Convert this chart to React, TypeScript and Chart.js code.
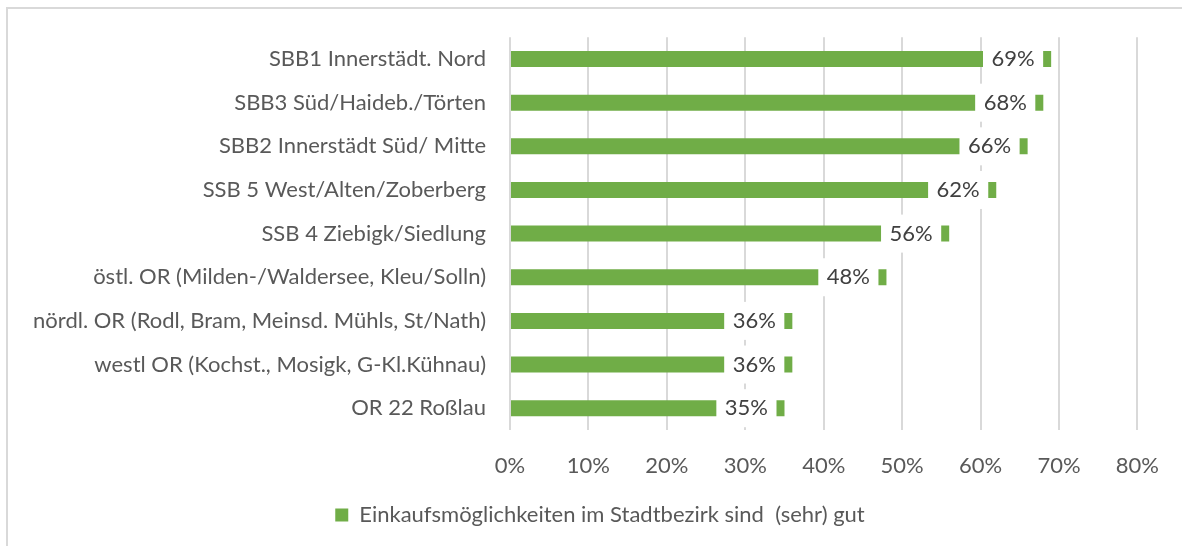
import React, { useEffect, useRef } from "react";
import { Chart, registerables } from "chart.js";

Chart.register(...registerables);

const categories: string[] = [
  "SBB1 Innerstädt. Nord",
  "SBB3 Süd/Haideb./Törten",
  "SBB2 Innerstädt Süd/ Mitte",
  "SSB 5 West/Alten/Zoberberg",
  "SSB 4 Ziebigk/Siedlung",
  "östl. OR (Milden-/Waldersee, Kleu/Solln)",
  "nördl. OR (Rodl, Bram, Meinsd. Mühls, St/Nath)",
  "westl OR (Kochst., Mosigk, G-Kl.Kühnau)",
  "OR 22 Roßlau",
];

const seriesLabel = "Einkaufsmöglichkeiten im Stadtbezirk sind  (sehr) gut";
const values: number[] = [69, 68, 66, 62, 56, 48, 36, 36, 35];

const xMin = 0;
const xMax = 80;
const xStep = 10;

const FONT = "Lato";
const GREEN = "#70AD47";
const TEXT = "#595959";
const GRID = "#D9D9D9";

const framePlugin = {
  id: "frame",
  afterLayout(chart: any) {
    // centre the legend under the plot like the original
    const lg = chart.legend;
    if (lg) {
      lg.left = 61;
      lg.width = lg.right - lg.left;
    }
  },
  beforeDraw(chart: any) {
    const ctx = chart.ctx;
    ctx.save();
    ctx.fillStyle = "#ffffff";
    ctx.fillRect(0, 0, chart.width, chart.height);
    ctx.strokeStyle = GRID;
    ctx.lineWidth = 2;
    ctx.beginPath();
    ctx.moveTo(7, chart.height + 10);
    ctx.lineTo(7, 8);
    ctx.lineTo(chart.width + 10, 8);
    ctx.stroke();
    ctx.restore();
  },
};

const valueLabelPlugin = {
  id: "valueLabels",
  afterDatasetsDraw(chart: any) {
    const ctx = chart.ctx;
    const meta = chart.getDatasetMeta(0);
    const data = chart.data.datasets[0].data as number[];
    ctx.save();
    ctx.font = `22px ${FONT}`;
    meta.data.forEach((bar: any, i: number) => {
      const text = `${data[i]}%`;
      const w = ctx.measureText(text).width;
      const boxW = w + 17;
      const right = bar.x - 8;
      const left = right - boxW;
      ctx.fillStyle = "#ffffff";
      ctx.fillRect(left, bar.y - 19, boxW, 38);
      ctx.fillStyle = "#404040";
      ctx.textAlign = "center";
      ctx.textBaseline = "middle";
      ctx.fillText(text, left + boxW / 2, bar.y);
    });
    ctx.restore();
  },
};

export default function App() {
  const canvasRef = useRef<HTMLCanvasElement | null>(null);

  useEffect(() => {
    if (!canvasRef.current) return;
    const font = { family: FONT, size: 22 };
    const chart = new Chart(canvasRef.current, {
      type: "bar",
      data: {
        labels: categories,
        datasets: [
          {
            label: seriesLabel,
            data: values,
            backgroundColor: GREEN,
            borderWidth: 0,
            barPercentage: 0.366,
            categoryPercentage: 1,
          },
        ],
      },
      options: {
        indexAxis: "y",
        responsive: false,
        animation: false,
        layout: { padding: { top: 37, right: 43, bottom: 10, left: 0 } },
        plugins: {
          legend: {
            position: "bottom",
            labels: {
              font,
              color: TEXT,
              boxWidth: 13,
              boxHeight: 13,
              padding: 10,
            },
          },
          tooltip: { enabled: false },
        },
        scales: {
          x: {
            min: xMin,
            max: xMax,
            ticks: {
              stepSize: xStep,
              callback: (v: any) => `${v}%`,
              font,
              color: TEXT,
              padding: 23,
            },
            grid: { color: GRID, lineWidth: 2, drawTicks: false },
            border: { display: false },
            afterFit(scale: any) {
              scale.height = 64;
            },
          },
          y: {
            ticks: { font, color: TEXT, padding: 24 },
            grid: { display: false, drawTicks: false },
            border: { display: false },
            afterFit(scale: any) {
              scale.width = 510;
            },
          },
        },
      } as any,
      plugins: [framePlugin, valueLabelPlugin],
    });
    return () => chart.destroy();
  }, []);

  return (
    <div style={{ position: "absolute", left: 0, top: 0, width: 1182, height: 546 }}>
      <canvas ref={canvasRef} width={1182} height={546} />
    </div>
  );
}
